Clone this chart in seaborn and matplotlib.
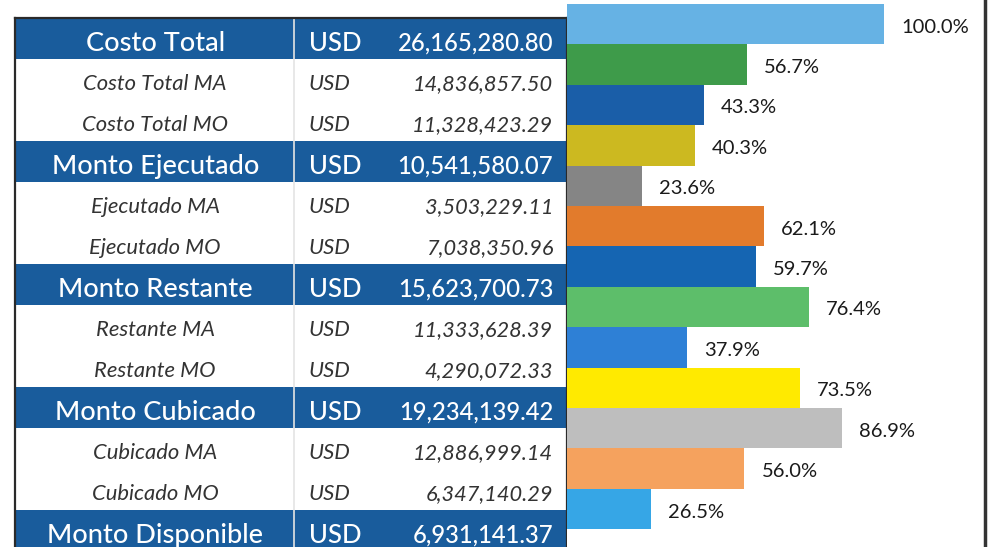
import matplotlib
matplotlib.use("Agg")
import matplotlib.pyplot as plt
import seaborn as sns

sns.set_style('white')
plt.rcParams['font.family'] = ['Lato', 'DejaVu Sans']

# table rows
labels = ["Costo Total", "Costo Total MA", "Costo Total MO",
          "Monto Ejecutado", "Ejecutado MA", "Ejecutado MO",
          "Monto Restante", "Restante MA", "Restante MO",
          "Monto Cubicado", "Cubicado MA", "Cubicado MO",
          "Monto Disponible"]
amounts = ["26,165,280.80", "14,836,857.50", "11,328,423.29",
           "10,541,580.07", "3,503,229.11", "7,038,350.96",
           "15,623,700.73", "11,333,628.39", "4,290,072.33",
           "19,234,139.42", "12,886,999.14", "6,347,140.29",
           "6,931,141.37"]
is_header = [True, False, False, True, False, False, True, False, False,
             True, False, False, True]
currency = "USD"

# bar values (percent)
pcts = [100.0, 56.7, 43.3, 40.3, 23.6, 62.1, 59.7, 76.4, 37.9, 73.5, 86.9, 56.0, 26.5]
bar_colors = ["#66B2E4", "#3E9B4A", "#1A5EA8", "#CCB920", "#858585", "#E27B2C",
              "#1565B2", "#5DBE6A", "#2E80D6", "#FFEA00", "#BEBEBE", "#F5A25E",
              "#36A6E6"]

header_blue = "#195C9C"

fig = plt.figure(figsize=(9.9, 5.47), dpi=100)

# ---- table on the left
ax_t = fig.add_axes([15/990, -4/547, 552/990, 533/547])
ax_t.set_xlim(0, 1)
ax_t.set_ylim(13, 0)
for i, lab in enumerate(labels):
    if is_header[i]:
        ax_t.axhspan(i, i + 1, color=header_blue, lw=0)
        kw = dict(color="white", fontsize=19.5, fontweight="medium")
        kw_c = dict(color="white", fontsize=18.5, fontweight="medium")
        kw_v = dict(color="white", fontsize=17.2, fontweight="medium")
    else:
        kw = dict(color="#333333", fontsize=15.8, style="italic")
        kw_c = kw
        kw_v = dict(color="#333333", fontsize=15.7, style="italic")
    y = i + 0.62
    ax_t.text(0.254, y, lab, ha="center", va="center", **kw)
    ax_t.text(0.532, y, currency, ha="left", va="center", **kw_c)
    ax_t.text(0.975, y, amounts[i], ha="right", va="center", **kw_v)
ax_t.axvline(0.505, color="#e4e4e4", lw=1.2)
ax_t.set_xticks([])
ax_t.set_yticks([])
for s in ax_t.spines.values():
    s.set_color("#2a2a2a")
    s.set_linewidth(1.6)

# ---- bars on the right
ax_b = fig.add_axes([567/990, 0, 418/990, 1])
sns.barplot(x=pcts, y=labels, hue=labels, palette=bar_colors, orient="h",
            width=1, legend=False, linewidth=0, saturation=1, ax=ax_b)
ax_b.set_xlim(0, 131.9)
ax_b.set_ylim(12.94, -0.598)
for i, v in enumerate(pcts):
    ax_b.annotate(f"{v:.1f}%", (v, i), xytext=(17, -3), textcoords="offset pixels",
                  ha="left", va="center", fontsize=14.5, color="#1a1a1a")
ax_b.set_xticks([])
ax_b.set_yticks([])
ax_b.set_xlabel("")
ax_b.set_ylabel("")
for side in ["top", "bottom", "left"]:
    ax_b.spines[side].set_visible(False)
ax_b.spines["right"].set_color("#333333")
ax_b.spines["right"].set_linewidth(2.5)

fig.savefig("out.png", dpi=100)
